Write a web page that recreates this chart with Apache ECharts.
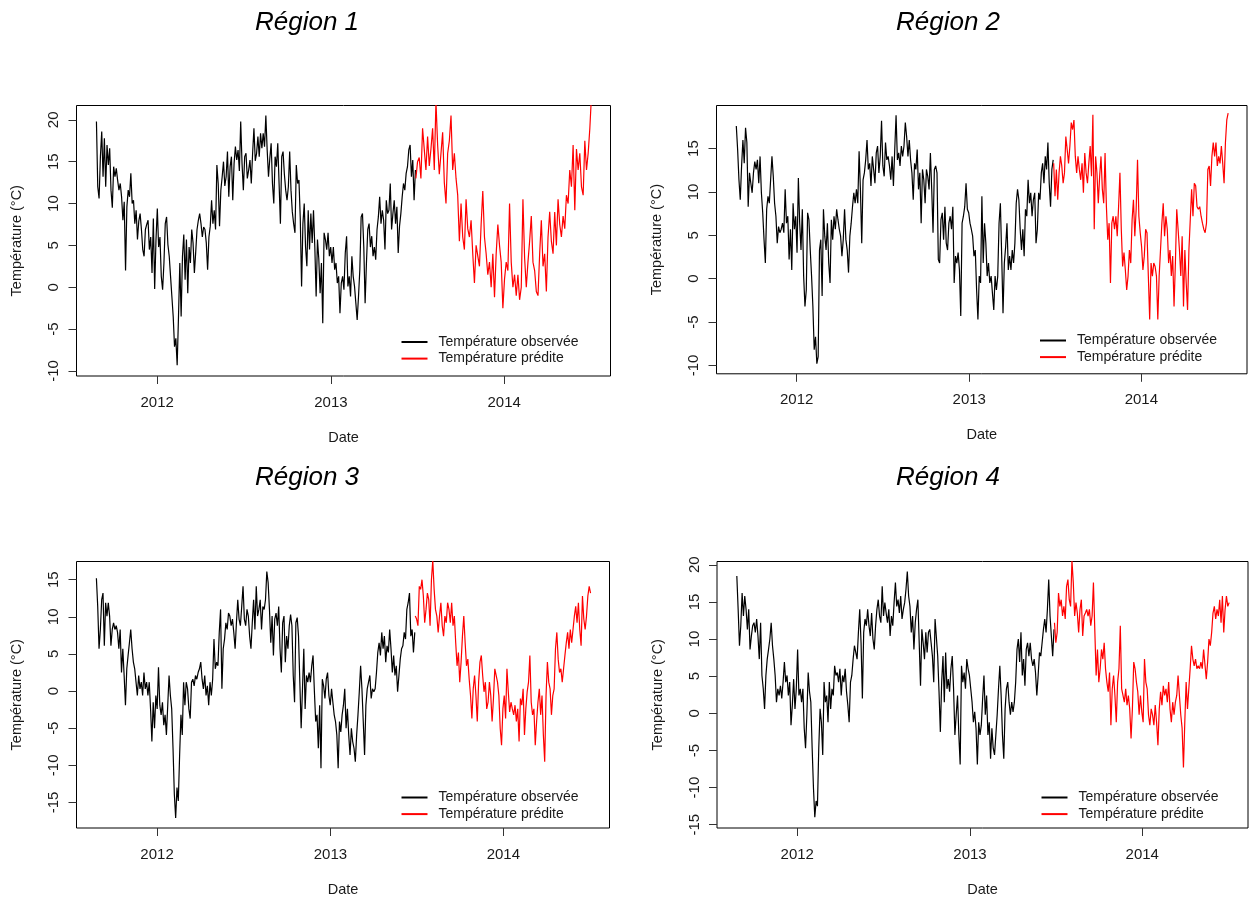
<!DOCTYPE html>
<html>
<head>
<meta charset="utf-8">
<script src="https://cdn.jsdelivr.net/npm/echarts@6/dist/echarts.min.js"></script>
<style>
html,body{margin:0;padding:0;background:#ffffff;}
#chart{width:1249px;height:898px;}
</style>
</head>
<body>
<div id="chart"></div>
<script>
// ---------------- DATA ----------------
const regionTitles = ['Région 1', 'Région 2', 'Région 3', 'Région 4'];
const seriesNames = ['Température observée', 'Température prédite'];
const yearTicks = [2012, 2013, 2014];
const yTicksRegion1 = [-10, -5, 0, 5, 10, 15, 20];
const yTicksRegion2 = [-10, -5, 0, 5, 10, 15];
const yTicksRegion3 = [-15, -10, -5, 0, 5, 10, 15];
const yTicksRegion4 = [-15, -10, -5, 0, 5, 10, 15, 20];

const observedStart = '2011-08-26';
const observedEnd = '2013-06-28';
const predictedStart = '2013-06-29';
const predictedEnd = '2014-07-04';

const region1Observed = [
19.8,12,10.6,15.6,18.6,13.2,17.8,12,17,14.6,
16.6,11.6,9.5,14.4,13.2,14.2,12.8,11.6,12.4,10.8,
8,10.2,2,9.6,11.6,10.8,13.6,10,10.4,7.6,
9.2,5.7,7.9,8.8,6.9,4.5,3.7,6.9,7.5,8,
4.5,6,1.7,8.2,-0.2,5.7,9.4,4.8,6,1.3,
-0.3,2.9,7.6,8.4,5.1,3.7,1.3,-1.1,-3.5,-7.1,
-6.1,-9.3,-3.5,2.9,-3.5,3.7,6.3,0.9,5.7,-0.7,
4.8,2.9,6.9,5.3,1.7,4.2,6.9,8,8.8,7.6,
6,7.2,6.9,5.3,2.1,6,7.3,10.4,7.6,9.2,
6.9,14.6,12.4,7.3,11.6,13.2,15,12.1,13.2,16.2,
10.8,14.4,15.6,10.4,14.8,16.8,15.2,16.4,13.9,19.8,
14.8,11.6,15.6,16,13,14,15.2,12.4,16,19,
15.1,16,18,15.6,18.4,16.6,18.4,16.8,20.5,16.4,
13.2,15.4,17.2,12.4,10,15.6,14.4,17.2,12.4,7.6,
15.6,16.2,13.5,11.6,10.4,12,16.2,11.6,9,7.6,
6.5,14.6,12.4,12.8,8.3,0.1,7.6,10,4.8,2.5,
9.2,4.5,8.8,5.3,9.2,4.8,-1.1,5.7,3.4,
-0.7,2.9,-4.3,6.5,5.7,4.5,6.5,3.7,4.8,2.9,
4.8,2.1,2.9,0.5,1.3,-3.1,0.5,1.3,-0.3,4.1,
6.1,0.1,1.3,-1.1,3.7,1.3,0.1,-1.9,-3.9,-1.1,
2.1,8.4,8.8,4.8,-1.9,2.9,6.9,7.6,4.8,6.1,
3.7,4.8,3.3,6.9,8.4,10.8,7.6,9.2,8,4.5,
10.4,8.8,9.2,12.4,6.9,8.8,10.4,7.6,9.6,4.1,
7.3,8.8,10.8,12.4,11.6,13.6,14.4,16.4,17,13.2,
15.2,10.4,14
];
const region1Predicted = [
13,15,15.5,13,19,16.5,14,18,14.5,16.5,
19,14,22.2,17,13.5,16,18.5,12.5,10,16,
17.5,20.5,14,16,13,11,5.5,10,6,4.5,
10.5,7,6,8,4,0.5,5,5,2.5,7.5,
11.5,6,4,1.5,3,0,4,-1.2,4,7.5,
5,3,-2.5,1,3,2,10,3,0,1.5,
-1,1.5,-1.5,0,10.5,3.5,0,3,5.5,8.5,
3,2,-0.5,-1,4,8,2.5,4,-0.5,6,
9,5.5,4,9,5,10.5,7.5,6,8.5,7,
11,10,14,12,17,9.2,16.5,14,16,12,
11,17.5,14,16,19,23
];

const region2Observed = [
17.6,14.9,11.4,9.1,13,16,13.3,17.4,15.7,8.3,
12.2,11,9.9,12.2,13.5,12.6,13.7,11,14.1,9.9,
7.6,4.5,1.8,8,9.5,8.7,11.4,14.1,11.8,8.7,
7.2,4.1,6,5.3,5.7,6.4,5.3,10.3,6.4,7.2,
2.2,5.7,1,8.7,5.7,7.2,3,11.6,6.4,3.3,
8,0.3,-3.2,-1.3,7.6,6.8,3.3,0.3,-3.2,-8.2,
-6.7,-9.8,-9,3.3,4.5,-2,8,4.9,3.3,6.4,
1.8,-0.5,6.8,4.5,7.2,5.7,8,6.8,5.7,4.9,
2.6,4.5,8,4.5,3.3,0.7,4.9,6.4,8.3,9.9,
8.7,10.3,8.7,14.7,10.3,4.1,11.4,12.2,13.7,16,
12.6,13.3,10.7,14.1,12.6,11,14.5,15.3,12.2,14.1,
18.2,13,11.8,15.7,13.7,14.1,13,11.4,14.1,10.7,
14.9,18.85,13.7,14.5,13,15.3,14.1,15.3,18,16.4,
14.1,16,13.7,12.2,9.1,13.3,12.6,14.9,10.3,12.2,
6.4,12.6,11.4,8.7,12.6,11.8,10.3,14.5,10.3,5.3,
12.6,13,12.2,2.2,1.8,6.8,7.6,4.5,8.3,4.1,
3.3,6.4,7.2,5.7,8.3,-0.5,2.6,1.8,3,
1,-4.3,6.4,7.2,8.3,11,8,7.6,6.4,5.7,
4.9,2.6,3.3,-1.3,-4.7,0.3,-0.5,9.5,1.8,6.4,
4.1,0.3,1.8,-0.5,0.3,-1.7,-3.6,0.3,-1.3,0.3,
6.4,8.7,2.6,-4,1.8,3.7,6.4,1,2.6,1,
3.3,1.8,4.1,8.7,10.3,9.1,5.7,3.3,5.7,2.6,
8,7.2,11.4,8.7,9.9,7.2,9.1,9.9,4.1,5.7,
9.9,9.1,12.2,13.3,11,14.1,12.6,15.7,11,8.3,
12.6,13.7
];
const region2Predicted = [
13.3,9.5,12.6,9.1,12.2,14.1,13,11,12.2,16.4,
14.9,13.3,15.3,18,17.2,18.3,14.1,12.2,14.1,12.6,
11.4,13.3,9.9,14.5,12.2,11,13.3,15.3,11.8,18.9,
5.7,14.1,12.2,8.7,11.8,14.1,10.3,8.7,14.5,8.3,
4.5,6.4,-0.5,6.4,7.2,5.7,7.2,4.9,8.3,12.2,
5.7,1.4,3,1,-1.3,0.3,3.3,1.8,6.8,9.1,
4.9,8,13.7,7.2,5.3,3.7,1,2.6,5.7,5.3,
0.3,-4.7,1.8,0.3,1.8,1.4,0.3,-4.7,0.3,3.3,
6.4,8.7,4.9,7.2,5.7,1.8,3.3,0.3,2.6,-3.2,
1.8,8,5.7,3.3,0.3,4.9,-3.2,3.3,-0.5,-3.6,
3.3,6.8,10.3,7.2,11,10.7,8.3,8,8.3,7.2,
6.4,5.7,5.3,6.4,12.6,13,10.7,14.1,15.7,14.1,
15.7,13,14.1,13.3,15.3,13.3,11,15.7,18.3,19.1
];

const region3Observed = [
15.2,11.4,5.7,8.3,12.3,13.2,6.1,11.9,10.1,11.9,
10.1,6.1,8.3,9.2,8.3,8.8,7.9,5.7,8.3,2.5,
5.7,2.1,-1.9,3,4.8,6.5,8.3,5.7,3.9,3,
1.2,-0.6,2.1,0.3,1.2,-0.6,2.5,0.3,1.2,-0.6,
1.2,-2.4,-6.8,-1.5,-5,-0.6,-2.4,3.2,-1.9,-3.2,
-1.5,-4.6,-3.2,-5.9,-1.9,2.1,-0.6,-2.4,-7.7,-13.9,
-17.1,-13,-14.8,-8.6,-3.2,-5.9,1.2,-1.9,1.2,0.3,
-2.4,-3.7,1.2,1.6,0.7,2.1,1.6,2.5,3,3.9,
1.6,0.3,2.1,-0.6,0.7,-1.9,1.2,-0.6,1.6,7,
3,3.9,3.4,7.9,11,0.3,5.7,7,9.2,8.3,
10.5,10.1,8.8,9.7,7.9,5.7,9.2,12.3,9.7,8.8,
11.4,14.1,9.7,8.8,11,10.1,7.4,5.7,9.2,12.3,
8.3,14.1,10.1,11,12.3,8.3,11.4,11,12.3,16.1,
14.6,11,6.5,10.1,4.8,9.7,10.5,8.8,11.4,5.7,
2.5,9.2,10.1,3.9,7.4,5.7,8.8,10.3,8.8,2.1,
-1.5,9.2,9.9,7.4,1.2,-5,0.3,5.7,-2.4,2.1,
1.2,2.5,1.2,3.4,4.8,0,-4.1,-3.2,-7.7,
-1.9,-10.4,1.6,0.7,-1,1.6,2.5,-0.6,-1.9,0.3,
-1.5,-3.2,-4.1,-5.9,-10.4,-4.1,-5.5,-3.2,-1.9,0.3,
-5,-2.4,-5.9,-8.6,-5,-6.8,-7.7,-9.5,-5.9,-3.2,
-0.1,3.4,0.3,-4.1,-8.6,-1.9,0.3,1.2,2.1,-1,
0.3,-0.1,0.3,2.5,5.2,6.5,4.8,7.9,5.7,7.4,
3.9,6.1,5.2,8.3,5.7,2.5,4.8,2.1,3.4,-0.1,
2.1,4.3,5.7,6.1,7.9,7,11,11.9,13.2,7.4,
8.3,5.2,7.9
];
const region3Predicted = [
10.1,9.7,8.8,14.1,13.7,15,12.8,9.2,11,13.2,
12.3,8.8,15,17.6,13.7,11,10.1,7.9,10.1,11.9,
8.8,7.4,10.1,9.2,11.9,11,9.2,11.9,8.8,10.1,
6.5,3.4,5.2,1.2,3.9,7.4,10.1,6.5,3.4,4.3,
1.6,-0.6,-3.7,0.3,2.1,-0.6,-4.1,1.2,3.9,4.8,
2.1,-0.1,1.2,-2.4,-1.5,1.2,-0.6,-4.1,-1,3,
2.1,1.2,-0.6,-5,-7.3,-2.4,-0.6,-3.7,3,-0.1,
-2.8,-1.5,-2.4,-3.2,-1.9,-4.1,-2.4,-6.8,-1,-1.9,
0.3,-5.9,-2.4,-0.1,1.2,4.8,-1.5,-3.2,-2.4,-7.3,
-4.1,-1.5,0.3,-3.2,-0.6,-5.9,-9.5,-0.6,3.9,1.2,
0.3,-3.2,-0.6,0.3,5.7,7.9,4.3,2.5,3,1.2,
3,4.8,6.5,7.9,5.7,8.3,6.5,8.3,10.1,11.4,
9.2,11.9,8.3,6.1,12.8,9.7,8.3,10.1,12.8,14.1,
13.2
];

const region4Observed = [
18.5,14,9.1,11.8,16.2,13.1,15.8,14,11.3,14,
8.6,10.4,11.8,12.2,10.9,12.7,10.4,7.3,12.2,5.1,
3.3,0.6,5.1,7.3,8.6,10,12.2,9.1,7.3,5.1,
1.5,3.3,2.4,3.7,2,4.2,6.9,4.2,5.1,2.4,
4.2,-1.6,1.1,4.6,0.6,3.3,8.6,2.4,3.3,1.5,
3.3,-2,-4.7,-0.2,5.5,2.9,1.5,-4.7,-10.1,-14,
-11.8,-12.5,-4.7,0.6,-1.2,-5.6,4.2,1.5,2.4,-1.2,
4.2,0.6,3.3,2.4,6.4,5.1,5.5,4.2,6,2.4,
5.1,4.2,6,2.9,1.1,-1.2,4.2,5.1,7.3,9.1,
8.2,7.3,10.9,14,9.5,2,10.9,12.7,11.8,14,
11.8,10.4,13.5,10,8.6,11.8,14,15.3,13.1,12.2,
17.1,13.1,14.9,13.5,12.2,14,10.4,13.1,11.8,14.9,
17.6,14.4,15.3,13.5,15.8,12.7,14,14.9,16.7,19.1,
15.8,14.4,10.9,13.1,8.6,12.2,14,15.3,9.5,3.7,
11.3,9.5,7.3,10.9,8.2,10.9,11.3,9.5,7.7,4.2,
12.7,12.9,7.7,2.9,-2.5,4.2,7.7,1.5,8.2,3.3,
4.6,2.9,6,7.7,3.3,-2.9,-0.2,2.4,
-2.9,-6.9,6.4,4.2,5.5,3.3,7.3,6,5.1,3.3,
1.5,-1.2,0.2,-2,-6.9,-1.2,-2.9,-1.6,2,5.1,
-0.2,2.4,-2.9,-1.2,-6.1,-2,-4.7,-5.6,-2.9,-0.2,
3.3,6.4,2.4,-2.9,-6.1,0.6,3.3,4.2,1.5,-0.2,
1.5,0.2,1.5,4.2,8.6,10,6.9,10.9,5.1,7.3,
3.7,8.6,9.5,7.7,9.5,7.3,6.4,7.3,5.5,2.4,
5.1,8.2,7.7,9.5,11.3,12.7,10.9,14,18,13.1,
10.4,7.7,11.3
];
const region4Predicted = [
12.2,9.5,10.9,16.2,14.4,15.3,13.1,14.4,12.7,17.1,
18,15.3,14.4,20.6,17.6,13.1,14.9,13.5,10.9,14,
15.3,10.4,13.1,13.5,14,13.1,14,11.8,13.1,17.6,
11.3,5.1,8.6,4.2,6,8.6,7.3,9.5,6,4.2,
2.9,5.5,-1.6,3.3,5.1,2.4,-1.2,4.2,6,11.8,
3.3,2.4,1.5,3.3,1.1,2.4,0.6,-3.4,0.6,6.9,
6,4.2,2.9,-0.2,2.4,0.2,-1.2,7.3,4.2,3.3,
-0.2,-1.6,0.6,-0.2,-1.6,1.1,-1.2,-4.3,0.6,2.9,
1.1,3.7,2.4,3.3,1.5,4.2,0.6,-1.2,1.5,-0.2,
1.5,2.4,5.1,2.4,-0.2,-2,-7.3,-1.2,4.2,0.6,
3.3,6,9.1,7.3,6.4,7.3,6,6.4,6,6.9,
6,8.6,8.6,4.6,6.9,10,9.1,10.9,13.5,14.4,
12.7,14,13.1,15.3,12.2,15.8,10.9,14,15.8,14.4,
14.9
];

const regionObserved = [region1Observed, region2Observed, region3Observed, region4Observed];
const regionPredicted = [region1Predicted, region2Predicted, region3Predicted, region4Predicted];
const regionYTicks = [yTicksRegion1, yTicksRegion2, yTicksRegion3, yTicksRegion4];

// ---------------- LAYOUT / STYLE ----------------
const FONT = '"Liberation Sans", Arial, Helvetica, sans-serif';
const TEXT = '#1a1a1a';
const panels = [
  { grid: { left: 76.5, top: 105.5, width: 534, height: 270.5 }, yMin: -10.6, yMax: 21.71,
    title: [307, 10], legend: [401.5, 334] },
  { grid: { left: 716.5, top: 105.5, width: 530.5, height: 268.3 }, yMin: -10.97, yMax: 19.97,
    title: [948, 10], legend: [1040, 332.5] },
  { grid: { left: 76.5, top: 561.5, width: 533, height: 268.5 }, yMin: -18.44, yMax: 17.45,
    title: [307, 465], legend: [401.5, 789.5] },
  { grid: { left: 717, top: 561.5, width: 531, height: 268.8 }, yMin: -15.44, yMax: 20.44,
    title: [948, 465], legend: [1041.5, 789.5] }
];
const xMin = Date.UTC(2011, 6, 15);
const xMax = Date.UTC(2014, 7, 13);

function toDate(s) { return Date.parse(s + 'T00:00:00Z'); }
function spread(values, start, end) {
  const t0 = toDate(start), t1 = toDate(end);
  const step = (t1 - t0) / (values.length - 1);
  return values.map((v, i) => [t0 + i * step, v]);
}

const yearValues = yearTicks.map(y => Date.UTC(y, 0, 1));

const option = {
  backgroundColor: '#ffffff',
  animation: false,
  textStyle: { fontFamily: FONT },
  title: panels.map((p, i) => ({
    text: regionTitles[i],
    left: p.title[0], top: p.title[1], textAlign: 'center', padding: 0,
    textStyle: { fontFamily: FONT, fontSize: 26, fontStyle: 'italic', fontWeight: 'normal', color: '#000' }
  })),
  legend: panels.map((p) => ({
    data: seriesNames,
    left: p.legend[0], top: p.legend[1], orient: 'vertical', padding: 0,
    itemWidth: 26, itemHeight: 2, itemGap: 0.6, icon: 'rect', selectedMode: false,
    textStyle: { fontFamily: FONT, fontSize: 14, color: TEXT, lineHeight: 16, padding: [0, 0, 0, 6] }
  })),
  grid: panels.map(p => Object.assign({ show: true, borderColor: '#000', borderWidth: 1, containLabel: false }, p.grid)),
  xAxis: panels.map((p, i) => ({
    type: 'value', gridIndex: i, min: xMin, max: xMax,
    name: 'Date', nameLocation: 'middle', nameGap: 54,
    nameTextStyle: { fontFamily: FONT, fontSize: 14.5, color: TEXT },
    axisLine: { show: false, onZero: false },
    axisTick: { show: true, customValues: yearValues, length: 8, lineStyle: { color: '#333', width: 1 } },
    axisLabel: { show: true, customValues: yearValues, margin: 19, fontSize: 15, color: TEXT, fontFamily: FONT,
      formatter: v => String(new Date(v).getUTCFullYear()) },
    splitLine: { show: false }
  })),
  yAxis: panels.map((p, i) => ({
    type: 'value', gridIndex: i, min: p.yMin, max: p.yMax,
    name: 'Température (°C)', nameLocation: 'middle', nameGap: 52,
    nameTextStyle: { fontFamily: FONT, fontSize: 14.5, color: TEXT },
    axisLine: { show: false, onZero: false },
    axisTick: { show: true, customValues: regionYTicks[i], length: 8, lineStyle: { color: '#333', width: 1 } },
    axisLabel: { show: true, customValues: regionYTicks[i], rotate: 90, margin: 15, fontSize: 15, color: TEXT, fontFamily: FONT },
    splitLine: { show: false }
  })),
  series: []
};

panels.forEach((p, i) => {
  option.series.push({
    name: seriesNames[0], type: 'line', xAxisIndex: i, yAxisIndex: i,
    data: spread(regionObserved[i], observedStart, observedEnd),
    showSymbol: false, symbol: 'none', clip: true,
    lineStyle: { color: '#000000', width: 1.2 }, itemStyle: { color: '#000000' }
  });
  option.series.push({
    name: seriesNames[1], type: 'line', xAxisIndex: i, yAxisIndex: i,
    data: spread(regionPredicted[i], predictedStart, predictedEnd),
    showSymbol: false, symbol: 'none', clip: true,
    lineStyle: { color: '#ff0000', width: 1.2 }, itemStyle: { color: '#ff0000' }
  });
});

const chart = echarts.init(document.getElementById('chart'), null, { renderer: 'canvas', width: 1249, height: 898 });
chart.setOption(option);
</script>
</body>
</html>
